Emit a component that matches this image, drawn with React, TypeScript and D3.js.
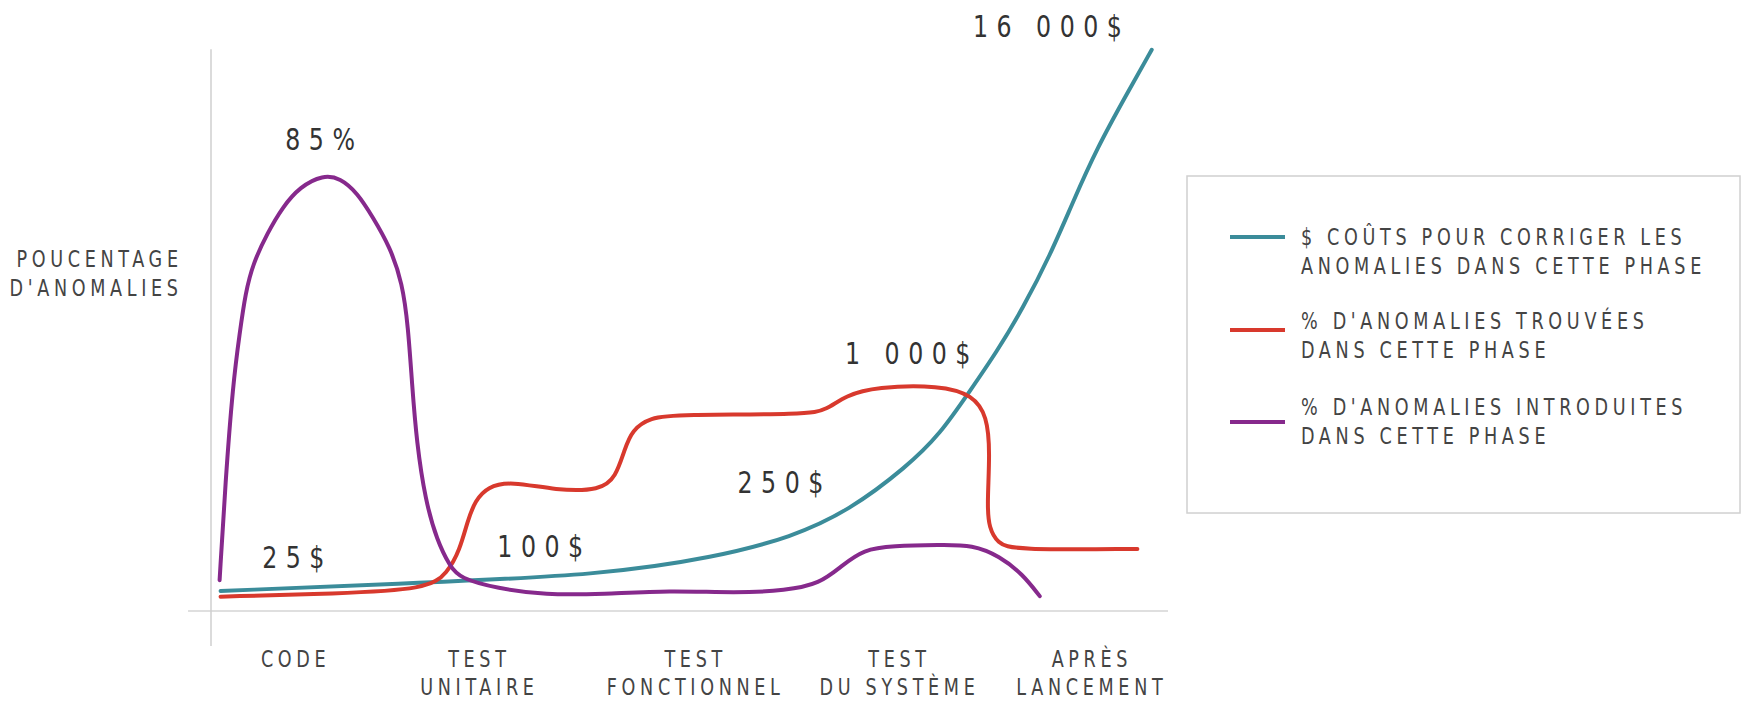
import React, { useEffect, useRef } from "react";
import * as d3 from "d3";

// phases along the bottom (each entry = lines of the label)
const phaseLabels = [
  ["CODE"],
  ["TEST", "UNITAIRE"],
  ["TEST", "FONCTIONNEL"],
  ["TEST", "DU SYSTÈME"],
  ["APRÈS", "LANCEMENT"],
];
const phasePos = [8.6, 27.8, 50.4, 71.7, 91.8];

// $ cost to fix the anomalies (relative height)
const costSeries = [
  [1.0, 3.9], [22.1, 5.5], [40.7, 7.0], [52.8, 10.5], [60.7, 14.4],
  [66.7, 19.6], [72.7, 28.1], [76.2, 34.5], [79.3, 42.9], [82.1, 50.5],
  [84.8, 58.9], [87.7, 69.4], [90.1, 79.9], [92.6, 90.3], [95.7, 100.8],
  [98.3, 109.4],
];

// % of anomalies found in each phase
const foundSeries = [
  [1.0, 2.8], [13.1, 3.4], [22.6, 4.2], [24.7, 7.4], [26.0, 11.9],
  [26.8, 17.5], [27.6, 21.5], [28.9, 24.2], [31.3, 25.3], [36.1, 23.5],
  [40.7, 23.5], [42.3, 26.1], [43.2, 31.4], [44.0, 35.3], [45.9, 37.7],
  [48.7, 38.3], [62.3, 38.3], [64.3, 39.2], [66.3, 42.0], [69.5, 43.7],
  [76.2, 44.0], [79.6, 42.1], [81.1, 38.0], [81.4, 31.0], [81.1, 20.5],
  [81.3, 16.2], [82.2, 13.2], [83.8, 11.9], [96.8, 12.1],
];

// % of anomalies introduced in each phase
const introducedSeries = [
  [0.9, 6.0], [1.5, 25.0], [2.3, 44.4], [3.0, 54.2], [3.6, 62.0],
  [4.4, 67.8], [5.9, 73.7], [7.5, 78.8], [9.3, 82.7], [11.7, 85.0],
  [13.5, 84.4], [15.3, 81.5], [16.9, 76.8], [18.7, 71.0], [20.0, 63.9],
  [20.6, 55.4], [21.0, 44.4], [21.5, 32.7], [22.4, 21.6], [23.6, 13.8],
  [25.0, 8.6], [26.0, 6.4], [29.9, 4.4], [34.9, 3.1], [41.0, 3.3],
  [47.9, 4.0], [54.9, 3.5], [60.1, 4.0], [63.6, 5.3], [65.9, 8.8],
  [68.2, 12.0], [71.2, 12.7], [76.2, 12.9], [79.6, 12.9], [82.4, 10.7],
  [84.8, 7.2], [86.6, 2.9],
];

// value callouts: text, x, y (data space)
const calloutText = ["16 000$", "85%", "1 000$", "250$", "100$", "25$"];
const calloutX = [87.4, 11.4, 72.8, 59.5, 34.4, 8.6];
const calloutY = [111.9, 89.9, 48.1, 23.0, 10.5, 8.4];

const legendLabels = [
  ["$ COÛTS POUR CORRIGER LES", "ANOMALIES DANS CETTE PHASE"],
  ["% D'ANOMALIES TROUVÉES", "DANS CETTE PHASE"],
  ["% D'ANOMALIES INTRODUITES", "DANS CETTE PHASE"],
];
const yLabel = ["POUCENTAGE", "D'ANOMALIES"];

const colors = ["#3b8c9a", "#d8392d", "#86298c"];
const FONT = "'DejaVu Sans Condensed', 'Liberation Sans Narrow', 'DejaVu Sans', sans-serif";
const SQUEEZE = 0.85; // the original type is a narrow face, so squash horizontally

export default function App() {
  const ref = useRef<SVGSVGElement | null>(null);

  useEffect(() => {
    const width = 1747, height = 703;
    const svg = d3.select(ref.current);
    svg.selectAll("*").remove();

    const x = d3.scaleLinear().domain([0, 100]).range([211, 1168]);
    const y = d3.scaleLinear().domain([0, 100]).range([611, 98]);

    svg.append("rect").attr("width", width).attr("height", height).attr("fill", "#fff");

    // multi-line narrow text helper
    const addText = (px, py, lines, opts) => {
      const anchor = opts.anchor || "start";
      // letter-spacing leaves a trailing gap, push it back so centring stays right
      const shift = anchor === "middle" ? opts.spacing / 2 : anchor === "end" ? opts.spacing : 0;
      const t = svg.append("text")
        .attr("transform", `translate(${px},${py}) scale(${SQUEEZE},1)`)
        .attr("text-anchor", anchor)
        .attr("font-family", FONT)
        .attr("font-size", opts.size)
        .attr("letter-spacing", opts.spacing)
        .attr("fill", opts.color || "#444");
      lines.forEach((l, j) => {
        t.append("tspan").attr("x", shift).attr("y", j * (opts.lineGap || 0)).text(l);
      });
      return t;
    };

    // axes (just plain grey lines, no ticks)
    svg.append("line")
      .attr("x1", x(-2.4)).attr("x2", x(100))
      .attr("y1", y(0)).attr("y2", y(0))
      .attr("stroke", "#d4d4d4").attr("stroke-width", 1.5);
    svg.append("line")
      .attr("x1", x(0)).attr("x2", x(0))
      .attr("y1", y(109.5)).attr("y2", y(-6.8))
      .attr("stroke", "#cfcfcf").attr("stroke-width", 1.5);

    // y axis label
    addText(178, 267, yLabel, { anchor: "end", size: 23, spacing: 5.5, lineGap: 29 });

    // phase labels
    phaseLabels.forEach((lines, i) => {
      addText(x(phasePos[i]), 667, lines, { anchor: "middle", size: 23, spacing: 5.5, lineGap: 28 });
    });

    const line = d3.line()
      .x(d => x(d[0]))
      .y(d => y(d[1]))
      .curve(d3.curveBasis);

    [costSeries, foundSeries, introducedSeries].forEach((s, i) => {
      svg.append("path")
        .attr("d", line(s))
        .attr("fill", "none")
        .attr("stroke", colors[i])
        .attr("stroke-width", 4)
        .attr("stroke-linecap", "round")
        .attr("stroke-linejoin", "round");
    });

    // callouts
    calloutText.forEach((txt, i) => {
      addText(x(calloutX[i]), y(calloutY[i]), [txt], { anchor: "middle", size: 31, spacing: 10, color: "#333" });
    });

    // legend box
    svg.append("rect")
      .attr("x", 1187).attr("y", 176)
      .attr("width", 553).attr("height", 337)
      .attr("fill", "#fff").attr("stroke", "#d0d0d0").attr("stroke-width", 1.5);

    const legendBase = [245, 329, 415];
    const legendLineY = [237, 330, 422];
    legendLabels.forEach((lines, i) => {
      svg.append("line")
        .attr("x1", 1230).attr("x2", 1285)
        .attr("y1", legendLineY[i]).attr("y2", legendLineY[i])
        .attr("stroke", colors[i]).attr("stroke-width", 4);
      addText(1301, legendBase[i], lines, { size: 23, spacing: 5.5, lineGap: 29 });
    });
  }, []);

  return (
    <svg ref={ref} width={1747} height={703}
      style={{ position: "absolute", left: 0, top: 0, display: "block" }} />
  );
}
